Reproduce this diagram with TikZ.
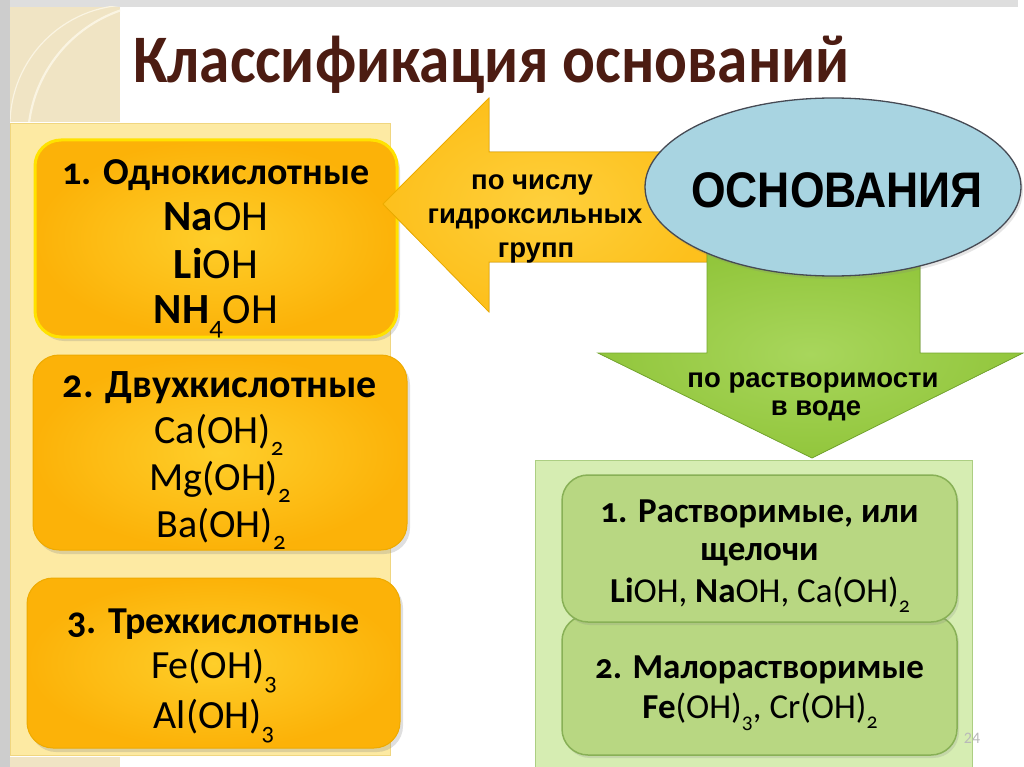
\documentclass[tikz,border=0pt]{standalone}
\usepackage{fontspec}
\setmainfont{Carlito}[Numbers=OldStyle]
\newfontfamily\arialf{Liberation Sans}
\newfontfamily\carlin{Carlito}
\usetikzlibrary{shapes.geometric,shadows}
\definecolor{framegray}{RGB}{222,222,222}
\definecolor{framegrayL}{RGB}{205,205,205}
\definecolor{beige}{RGB}{240,228,196}
\definecolor{beigeL}{RGB}{250,244,226}
\definecolor{panelY}{RGB}{253,234,163}
\definecolor{panelYb}{RGB}{240,214,128}
\definecolor{orD}{RGB}{252,178,8}
\definecolor{orL}{RGB}{254,206,42}
\definecolor{orB}{RGB}{255,226,0}
\definecolor{orB2}{RGB}{238,170,0}
\definecolor{arrO}{RGB}{253,192,28}
\definecolor{arrOL}{RGB}{254,208,60}
\definecolor{arrOb}{RGB}{236,172,0}
\definecolor{ellB}{RGB}{168,212,225}
\definecolor{ellBd}{RGB}{70,74,84}
\definecolor{grA}{RGB}{146,198,60}
\definecolor{grAL}{RGB}{168,214,92}
\definecolor{grAb}{RGB}{118,168,48}
\definecolor{panelG}{RGB}{214,237,178}
\definecolor{panelGb}{RGB}{172,206,130}
\definecolor{grBox}{RGB}{184,215,130}
\definecolor{grBoxb}{RGB}{136,176,86}
\definecolor{titlec}{RGB}{76,28,18}
\newcommand\ttlfont{\bfseries\fontsize{68}{72}\selectfont}
\newcommand\hdfont{\bfseries\fontsize{38}{42}\selectfont}
\newcommand\bigf{\fontsize{43}{46}\selectfont}
\newcommand\midf{\fontsize{40}{44}\selectfont}
\newcommand\grf{\fontsize{35}{40}\selectfont}
\newcommand\arrf{\arialf\bfseries\fontsize{27.5}{30}\selectfont}
\newcommand\el[1]{{\bfseries #1}}
\newcommand\sbs[1]{\raisebox{-0.3em}{\scalebox{0.62}{#1}}}
\begin{document}
\begin{tikzpicture}[x=1pt,y=-1pt,
  obox/.style={rectangle, rounded corners=26pt, draw=orB2, line width=1pt,
    inner color=orL, outer color=orD,
    drop shadow={opacity=0.25, shadow xshift=3pt, shadow yshift=-4pt}},
  gbox/.style={rectangle, rounded corners=26pt, draw=grBoxb, line width=1.5pt,
    fill=grBox,
    drop shadow={opacity=0.2, shadow xshift=2pt, shadow yshift=-3pt}},
  txt/.style={anchor=base, inner sep=0pt, text=black},
  atxt/.style={anchor=base, inner sep=0pt, text=black, font=\arrf}
]
\useasboundingbox (0,0) rectangle (1024,767);
\fill[white] (0,0) rectangle (1024,767);
% slide frame
\fill[framegray] (0,0) rectangle (1018,7);
\fill[framegrayL] (0,0) rectangle (10,767);
% corner decoration
\fill[beige] (10,7) rectangle (120,122);
\begin{scope}
  \clip (10,7) rectangle (120,122);
  \draw[beigeL, line width=1.2pt] (130,125) circle[radius=120pt];
  \draw[beigeL, line width=2.2pt] (165,140) circle[radius=137pt];
\end{scope}
\fill[beige] (10,757) rectangle (120,767);
% left panel
\filldraw[fill=panelY, draw=panelYb, line width=0.8pt] (10,123) rectangle (390,755);
% left boxes
\node[obox, draw=orB, line width=3pt, minimum width=362pt, minimum height=197pt] (b1) at (216,238.5) {};
\node[obox, minimum width=374pt, minimum height=195pt] (b2) at (220,452.5) {};
\node[obox, minimum width=373pt, minimum height=170pt] (b3) at (213.5,663) {};
\node[txt, font=\hdfont] (b1h) at (216,185) {1. Однокислотные};
\node[txt, font=\bigf] (b1a) at (216,230) {\el{Na}OH};
\node[txt, font=\bigf] (b1b) at (216,278) {\el{Li}OH};
\node[txt, font=\bigf] (b1c) at (216,323) {\el{NH}\sbs{4}OH};
\node[txt, font=\hdfont\fontsize{40}{44}\selectfont] (b2h) at (220,397) {2. Двухкислотные};
\node[txt, font=\midf] (b2a) at (219,443) {Ca(OH)\sbs{2}};
\node[txt, font=\midf] (b2b) at (220,490) {Mg(OH)\sbs{2}};
\node[txt, font=\midf] (b2c) at (221,537) {Ba(OH)\sbs{2}};
\node[txt, font=\hdfont] (b3h) at (213.5,633) {3. Трехкислотные};
\node[txt, font=\midf] (b3a) at (214,678) {Fe(OH)\sbs{3}};
\node[txt, font=\midf] (b3b) at (214,728) {Al(OH)\sbs{3}};
% orange arrow
\filldraw[draw=arrOb, line width=0.8pt, inner color=arrOL, outer color=arrO]
  (383,204) -- (489,98) -- (489,152) -- (707,152) -- (707,262) -- (489,262) -- (489,312) -- cycle;
\node[atxt] (o1) at (532,190) {по числу};
\node[atxt] (o2) at (535,223) {гидроксильных};
\node[atxt] (o3) at (536,257) {групп};
% right panel
\filldraw[fill=panelG, draw=panelGb, line width=0.8pt] (535,460) rectangle (972,767);
\node[gbox, minimum width=395pt, minimum height=140pt] (g2) at (759.5,685) {};
\node[gbox, minimum width=395pt, minimum height=147pt] (g1) at (759.5,548.5) {};
\node[txt, font=\grf\bfseries] (g1h) at (759.5,522) {1. Растворимые, или};
\node[txt, font=\grf\bfseries] (g1m) at (759.5,560) {щелочи};
\node[txt, font=\grf] (g1f) at (760,602) {\el{Li}OH, \el{Na}OH, Ca(OH)\sbs{2}};
\node[txt, font=\grf\bfseries] (g2h) at (759.5,678) {2. Малорастворимые};
\node[txt, font=\grf] (g2f) at (760,718) {\el{Fe}(OH)\sbs{3}, Cr(OH)\sbs{2}};
% green arrow
\filldraw[draw=grAb, line width=0.8pt, inner color=grAL, outer color=grA]
  (707,250) -- (920,250) -- (920,353) -- (1023,353) -- (812,458) -- (598,353) -- (707,353) -- cycle;
\node[atxt] (d1) at (813,387) {по растворимости};
\node[atxt] (d2) at (816,415) {в воде};
% ellipse
\node[ellipse, draw=ellBd, line width=1.3pt, fill=ellB, minimum width=376pt, minimum height=178pt,
  inner sep=0pt,
  drop shadow={opacity=0.2, shadow xshift=2pt, shadow yshift=-3pt}] (osn) at (833,187) {};
\node[txt, font=\arialf\bfseries\fontsize{50}{52}\selectfont] (osnt) at (837,208) {\scalebox{0.89}[1]{ОСНОВАНИЯ}};
% title
\node[anchor=base west, inner sep=0pt, text=titlec, font=\ttlfont] (title) at (133,83) {\scalebox{0.9}[1]{Классификация оснований}};
% page number
\node[text=gray!55, font=\carlin\fontsize{16}{18}\selectfont, inner sep=0pt] (pg) at (972,738) {24};
\end{tikzpicture}
\end{document}
